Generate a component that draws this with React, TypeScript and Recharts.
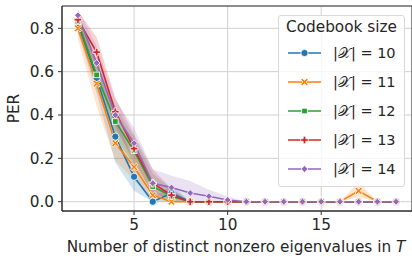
import React from "react";
import {
  ComposedChart,
  Line,
  Area,
  XAxis,
  YAxis,
  CartesianGrid,
  ReferenceArea,
} from "recharts";

const xs = [2, 3, 4, 5, 6, 7, 8, 9, 10, 11, 12, 13, 14, 15, 16, 17, 18, 19];

const per10 = [0.82, 0.57, 0.3, 0.115, 0.0, 0.04, 0, 0, 0, 0, 0, 0, 0, 0, 0, 0, 0, 0];
const lo10 = [0.78, 0.5, 0.18, 0.05, 0.0, 0.0, 0, 0, 0, 0, 0, 0, 0, 0, 0, 0, 0, 0];
const hi10 = [0.86, 0.64, 0.4, 0.18, 0.01, 0.08, 0, 0, 0, 0, 0, 0, 0, 0, 0, 0, 0, 0];

const per11 = [0.8, 0.545, 0.27, 0.16, 0.03, 0.0, 0, 0, 0, 0, 0, 0, 0, 0, 0, 0.05, 0, 0];
const lo11 = [0.75, 0.44, 0.19, 0.1, 0.01, 0, 0, 0, 0, 0, 0, 0, 0, 0, 0, 0.02, 0, 0];
const hi11 = [0.84, 0.64, 0.36, 0.22, 0.06, 0.01, 0, 0, 0, 0, 0, 0, 0, 0, 0, 0.09, 0, 0];

const per12 = [0.83, 0.585, 0.37, 0.235, 0.07, 0.025, 0, 0, 0, 0, 0, 0, 0, 0, 0, 0, 0, 0];
const lo12 = [0.79, 0.52, 0.3, 0.17, 0.03, 0.0, 0, 0, 0, 0, 0, 0, 0, 0, 0, 0, 0, 0];
const hi12 = [0.87, 0.65, 0.44, 0.3, 0.13, 0.06, 0, 0, 0, 0, 0, 0, 0, 0, 0, 0, 0, 0];

const per13 = [0.84, 0.69, 0.415, 0.245, 0.085, 0.03, 0, 0, 0, 0, 0, 0, 0, 0, 0, 0, 0, 0];
const lo13 = [0.8, 0.62, 0.35, 0.18, 0.04, 0.01, 0, 0, 0, 0, 0, 0, 0, 0, 0, 0, 0, 0];
const hi13 = [0.88, 0.76, 0.48, 0.31, 0.15, 0.06, 0, 0, 0, 0, 0, 0, 0, 0, 0, 0, 0, 0];

const per14 = [0.86, 0.64, 0.4, 0.27, 0.085, 0.065, 0.04, 0.025, 0.008, 0, 0, 0, 0, 0, 0, 0, 0, 0];
const lo14 = [0.82, 0.57, 0.33, 0.2, 0.03, 0.02, 0.0, 0.0, 0.0, 0, 0, 0, 0, 0, 0, 0, 0, 0];
const hi14 = [0.89, 0.72, 0.47, 0.34, 0.15, 0.12, 0.095, 0.055, 0.025, 0, 0, 0, 0, 0, 0, 0, 0, 0];

const sizes = ["10", "11", "12", "13", "14"];
const colors = ["#1f77b4", "#ff7f0e", "#2ca02c", "#d62728", "#9467bd"];
const markers = ["circle", "x", "square", "plus", "diamond"];
const xTicks = [5, 10, 15];
const yTicks = [0, 0.2, 0.4, 0.6, 0.8];

const series = [
  { v: per10, lo: lo10, hi: hi10 },
  { v: per11, lo: lo11, hi: hi11 },
  { v: per12, lo: lo12, hi: hi12 },
  { v: per13, lo: lo13, hi: hi13 },
  { v: per14, lo: lo14, hi: hi14 },
];

const data = xs.map((x, i) => {
  const row: any = { x };
  series.forEach((s, k) => {
    row["s" + k] = s.v[i];
    row["b" + k] = [s.lo[i], s.hi[i]];
  });
  return row;
});

const FONT = "DejaVu Sans, sans-serif";
const FS = 15.3;

function Marker({ kind, cx, cy, color }: any) {
  const sw = 0.8;
  if (kind === "circle") {
    return <circle cx={cx} cy={cy} r={3.6} fill={color} stroke="#fff" strokeWidth={sw} />;
  }
  if (kind === "square") {
    return <rect x={cx - 2.8} y={cy - 2.8} width={5.6} height={5.6} fill={color} stroke="#fff" strokeWidth={sw} />;
  }
  if (kind === "diamond") {
    const d = 3.4;
    return (
      <path d={`M${cx},${cy - d}L${cx + d},${cy}L${cx},${cy + d}L${cx - d},${cy}Z`} fill={color} stroke="#fff" strokeWidth={sw} />
    );
  }
  if (kind === "plus") {
    const a = 3.8, b = 1.3;
    const p = [
      [-b, -a], [b, -a], [b, -b], [a, -b], [a, b], [b, b], [b, a], [-b, a], [-b, b], [-a, b], [-a, -b], [-b, -b],
    ];
    return (
      <path d={"M" + p.map(([dx, dy]) => `${cx + dx},${cy + dy}`).join("L") + "Z"} fill={color} stroke="#fff" strokeWidth={sw} />
    );
  }
  const a = 3.7, t = 1.5;
  const p = [
    [0, -t], [a - t, -a], [a, -a + t], [t, 0], [a, a - t], [a - t, a], [0, t], [-a + t, a], [-a, a - t], [-t, 0], [-a, -a + t], [-a + t, -a],
  ];
  return (
    <path d={"M" + p.map(([dx, dy]) => `${cx + dx},${cy + dy}`).join("L") + "Z"} fill={color} stroke="#fff" strokeWidth={sw} />
  );
}

const makeDot = (k: number) => (props: any) => {
  const { cx, cy, index } = props;
  if (cx == null || cy == null) return <g key={`d${k}-${index}`} />;
  return (
    <g key={`d${k}-${index}`}>
      <Marker kind={markers[k]} cx={cx} cy={cy} color={colors[k]} />
    </g>
  );
};

const YLabel = (props: any) => {
  const vb = props.viewBox || { x: 0, y: 6, width: 62, height: 205 };
  const cy = vb.y + vb.height / 2;
  const cx = 14;
  return (
    <text x={cx} y={cy} transform={`rotate(-90, ${cx}, ${cy})`} textAnchor="middle" dominantBaseline="central" fontFamily={FONT} fontSize={FS} fill="#262626">
      PER
    </text>
  );
};

const XLabel = (props: any) => {
  const vb = props.viewBox || { x: 62, y: 211, width: 350, height: 51 };
  const cx = vb.x + vb.width / 2 - 1;
  return (
    <text x={cx} y={247} textAnchor="middle" dominantBaseline="central" fontFamily={FONT} fontSize={FS} fill="#262626">
      Number of distinct nonzero eigenvalues in <tspan fontStyle="italic">T</tspan>
    </text>
  );
};

function LegendBox() {
  return (
    <div
      style={{
        position: "absolute",
        left: 278,
        top: 15,
        width: 127,
        height: 172,
        background: "rgba(255,255,255,0.8)",
        border: "1px solid #d9d9d9",
        borderRadius: 3,
        boxSizing: "border-box",
        fontFamily: FONT,
        fontSize: 14.5,
        color: "#262626",
      }}
    >
      <div style={{ position: "absolute", left: 0, width: 125, top: 2, height: 18, textAlign: "center", lineHeight: "18px", whiteSpace: "nowrap", fontSize: FS }}>
        Codebook size
      </div>
      {sizes.map((s, k) => (
        <div key={s} style={{ position: "absolute", left: 0, top: 28 + k * 28.9, height: 18, width: 125 }}>
          <svg width={36} height={18} style={{ position: "absolute", left: 8, top: 0 }}>
            <line x1={1} y1={9} x2={34} y2={9} stroke={colors[k]} strokeWidth={1.5} />
            <Marker kind={markers[k]} cx={17.5} cy={9} color={colors[k]} />
          </svg>
          <span style={{ position: "absolute", left: 54, top: 0, lineHeight: "18px", whiteSpace: "nowrap" }}>
            |𝒳| = {s}
          </span>
        </div>
      ))}
    </div>
  );
}

export default function App() {
  return (
    <div style={{ position: "absolute", left: 0, top: 0, width: 412, height: 262, background: "#fff" }}>
      <ComposedChart width={412} height={262} data={data} margin={{ top: 6, right: 0, bottom: 0, left: 0 }}>
        <CartesianGrid stroke="#d0d0d0" strokeWidth={1} />
        <XAxis
          dataKey="x"
          type="number"
          domain={[1.15, 19.85]}
          allowDataOverflow
          ticks={xTicks}
          height={51}
          tickSize={4}
          tickMargin={4}
          tickLine={{ stroke: "#333" }}
          axisLine={{ stroke: "#333" }}
          tick={{ fontFamily: FONT, fontSize: FS, fill: "#262626" }}
          label={<XLabel />}
        />
        <YAxis
          type="number"
          domain={[-0.043, 0.903]}
          allowDataOverflow
          ticks={yTicks}
          width={62}
          tickSize={4}
          tickMargin={4}
          tickLine={{ stroke: "#333" }}
          axisLine={{ stroke: "#333" }}
          tickFormatter={(v: number) => v.toFixed(1)}
          tick={{ fontFamily: FONT, fontSize: FS, fill: "#262626" }}
          label={<YLabel />}
        />
        {series.map((_, k) => (
          <Area
            key={"b" + k}
            dataKey={"b" + k}
            type="linear"
            stroke="none"
            fill={colors[k]}
            fillOpacity={0.2}
            isAnimationActive={false}
            dot={false}
            activeDot={false}
          />
        ))}
        {series.map((_, k) => (
          <Line
            key={"s" + k}
            dataKey={"s" + k}
            type="linear"
            stroke={colors[k]}
            strokeWidth={1.6}
            dot={makeDot(k)}
            activeDot={false}
            isAnimationActive={false}
          />
        ))}
        <ReferenceArea x1={1.15} x2={19.85} y1={-0.043} y2={0.903} fill="none" stroke="#333" strokeWidth={1} />
      </ComposedChart>
      <LegendBox />
    </div>
  );
}
